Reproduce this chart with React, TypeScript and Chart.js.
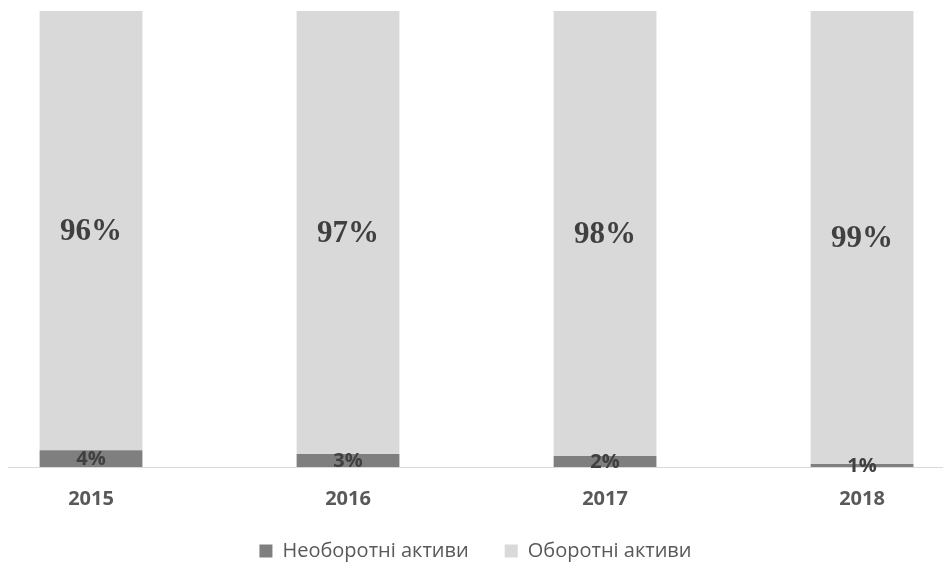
import React, { useEffect, useRef } from 'react';
import { Chart, registerables } from 'chart.js';

Chart.register(...registerables);

const years = ['2015', '2016', '2017', '2018'];
const nonCurrentAssets = [3.7, 2.85, 2.4, 0.66];
const currentAssets = [96.3, 97.15, 97.6, 99.34];
const seriesNames = ['Необоротні активи', 'Оборотні активи'];

const DARK = '#7F7F7F';
const LIGHT = '#D9D9D9';

const valueLabels = {
  id: 'valueLabels',
  afterDatasetsDraw(chart: any) {
    const ctx = chart.ctx;
    chart.data.datasets.forEach((ds: any, di: number) => {
      const meta = chart.getDatasetMeta(di);
      meta.data.forEach((bar: any, i: number) => {
        const v = ds.data[i].y;
        const text = Math.round(v) + '%';
        const { x, y, base } = bar.getProps(['x', 'y', 'base'], true);
        ctx.save();
        if (di === 1) {
          ctx.font = 'bold 31px "Liberation Serif"';
        } else {
          ctx.font = 'bold 20px "Open Sans"';
        }
        ctx.fillStyle = '#404040';
        ctx.textAlign = 'center';
        ctx.textBaseline = 'middle';
        ctx.fillText(text, x, (y + base) / 2 + 1);
        ctx.restore();
      });
    });
  },
};

export default function App() {
  const ref = useRef<HTMLCanvasElement>(null);

  useEffect(() => {
    if (!ref.current) return;
    const chart = new Chart(ref.current, {
      type: 'bar',
      data: {
        datasets: [
          {
            label: seriesNames[0],
            data: years.map((_, i) => ({ x: i, y: nonCurrentAssets[i] })),
            backgroundColor: DARK,
            borderWidth: 0,
            barPercentage: 0.4,
            categoryPercentage: 1,
          },
          {
            label: seriesNames[1],
            data: years.map((_, i) => ({ x: i, y: currentAssets[i] })),
            backgroundColor: LIGHT,
            borderWidth: 0,
            barPercentage: 0.4,
            categoryPercentage: 1,
          },
        ],
      },
      options: {
        animation: false,
        responsive: true,
        maintainAspectRatio: false,
        layout: { padding: { left: 8, top: 11, right: 0, bottom: 0 } },
        scales: {
          x: {
            type: 'linear',
            stacked: true,
            offset: false,
            min: -0.323,
            max: 3.315,
            afterBuildTicks: (axis: any) => {
              axis.ticks = years.map((_, i) => ({ value: i }));
            },
            afterFit: (scale: any) => {
              scale.height = 38;
            },
            grid: { display: false, drawTicks: false },
            border: { display: true, color: '#D9D9D9', width: 1 },
            ticks: {
              autoSkip: false,
              maxRotation: 0,
              padding: 20,
              color: '#595959',
              font: { family: 'Open Sans', size: 20, weight: 'bold' },
              callback: (v: any) => years[v] ?? '',
            },
          },
          y: {
            stacked: true,
            min: 0,
            max: 100,
            display: false,
          },
        },
        plugins: {
          legend: {
            position: 'bottom',
            maxHeight: 58,
            labels: {
              boxWidth: 13,
              boxHeight: 13,
              padding: 36,
              color: '#595959',
              font: { family: 'Open Sans', size: 20 },
            },
          },
          tooltip: { enabled: false },
        },
      } as any,
      plugins: [valueLabels],
    });
    return () => chart.destroy();
  }, []);

  return (
    <div style={{ position: 'fixed', left: 0, top: 0, width: 943, height: 563, background: '#fff' }}>
      <canvas ref={ref} />
    </div>
  );
}
